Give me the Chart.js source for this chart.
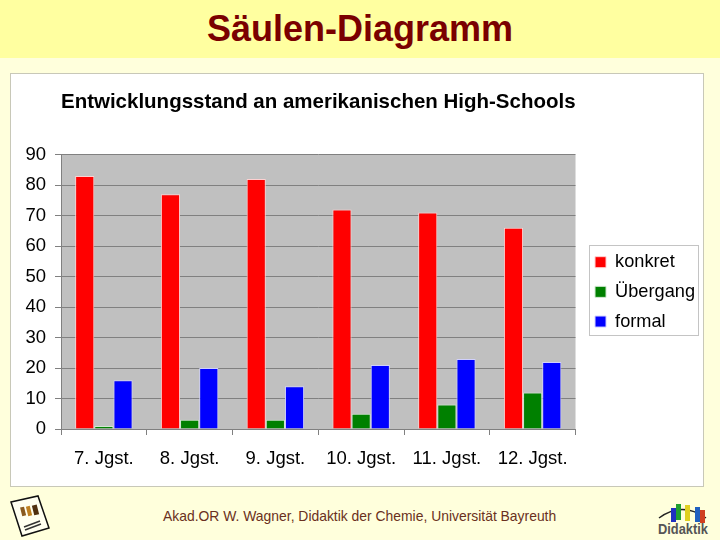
<!DOCTYPE html>
<html lang="de">
<head>
<meta charset="utf-8">
<title>Säulen-Diagramm</title>
<script src="https://cdn.jsdelivr.net/npm/chart.js@4"></script>
<style>
    html, body { margin: 0; padding: 0; }
    body { width: 720px; height: 540px; position: relative; overflow: hidden; background: #ffffdc; font-family: "Liberation Sans", Arial, sans-serif; }
    #band { position: absolute; left: 0; top: 0; width: 720px; height: 58px; background: #ffffa0; }
    #heading { position: absolute; left: 0; top: 7px; width: 720px; margin: 0; text-align: center; font-size: 36px; line-height: 44px; font-weight: bold; color: #7a0000; }
    #panel { position: absolute; left: 10px; top: 73px; width: 692px; height: 412px; background: #fff; border: 1px solid #c8c8b8; }
    #chartBox { position: absolute; left: 0; top: 0; width: 692px; height: 412px; }
    #footer { position: absolute; left: 163px; top: 508px; font-size: 13.9px; line-height: 16px; color: #6a3020; white-space: nowrap; }
    #docIcon { position: absolute; left: 8px; top: 495px; }
    #logo { position: absolute; left: 654px; top: 497px; }
</style>
</head>
<body>
<div id="band"></div>
<h1 id="heading">Säulen-Diagramm</h1>
<div id="panel"><div id="chartBox"><canvas id="mainChart" width="692" height="412"></canvas></div></div>
<div id="footer">Akad.OR W. Wagner, Didaktik der Chemie, Universität Bayreuth</div>

<svg id="docIcon" width="44" height="45" viewBox="0 0 44 45">
    <polygon points="3,7 30,1 41,33 14,41" fill="#fffff0" stroke="#111" stroke-width="1.5"/>
    <rect x="13" y="12" width="4" height="9" fill="#8a5a20" transform="rotate(-14 15 16)"/>
    <rect x="19" y="11" width="4" height="10" fill="#c08020" transform="rotate(-14 21 16)"/>
    <rect x="25" y="10" width="5" height="10" fill="#503010" transform="rotate(-14 27 15)"/>
    <path d="M16,32 L32,26 M17,35 L33,29" stroke="#333" stroke-width="1.5"/>
</svg>
<svg id="logo" width="58" height="42" viewBox="0 0 58 42">
    <path d="M5,21 Q28,4 52,21" fill="none" stroke="#222" stroke-width="1.5"/>
    <rect x="17" y="11" width="5" height="14" fill="#2030c0"/>
    <rect x="22" y="7" width="5" height="16" fill="#20a030"/>
    <rect x="31" y="8" width="5" height="16" fill="#e0d020"/>
    <rect x="41" y="10" width="5" height="15" fill="#2060c0"/>
    <rect x="46" y="13" width="5" height="13" fill="#d04020"/>
    <text x="29" y="37" text-anchor="middle" font-family="Liberation Sans" font-size="15" font-weight="bold" fill="#555" textLength="50" lengthAdjust="spacingAndGlyphs">Didaktik</text>
</svg>

<script>
const GRADES = ['7. Jgst.', '8. Jgst.', '9. Jgst.', '10. Jgst.', '11. Jgst.', '12. Jgst.'];
const KONKRET = [83, 77, 82, 72, 71, 66];
const UEBERGANG = [1, 3, 3, 5, 8, 12];
const FORMAL = [16, 20, 14, 21, 23, 22];
const Y_MAX = 90;
const Y_STEP = 10;

const FONT = 'Liberation Sans';
const LEGEND_GAP = 8;

// Grauer Hintergrund der Zeichenfläche
const plotBackground = {
    id: 'plotBackground',
    beforeDraw(chart) {
        const { ctx, chartArea: a } = chart;
        ctx.save();
        ctx.fillStyle = '#c0c0c0';
        ctx.fillRect(a.left, a.top, a.right - a.left, a.bottom - a.top);
        ctx.restore();
    }
};

// Legende von der Zeichenfläche absetzen und einrahmen
const legendFrame = {
    id: 'legendFrame',
    afterLayout(chart) {
        chart.legend.left += LEGEND_GAP;
        chart.legend.right += LEGEND_GAP;
    },
    afterDraw(chart) {
        const { ctx, legend: l } = chart;
        const boxes = l.legendHitBoxes;
        const last = boxes[boxes.length - 1];
        const left = Math.round(l.left) + 5;
        const top = Math.round(last.top - (boxes.length - 1) * (boxes[1].top - boxes[0].top)) - 8;
        const bottom = Math.round(last.top + last.height) + 4;
        ctx.save();
        ctx.strokeStyle = '#c4c4c4';
        ctx.lineWidth = 1;
        ctx.strokeRect(left + 0.5, top + 0.5, Math.round(l.right) - 6 - left - 1, bottom - top);
        ctx.restore();
    }
};

new Chart(document.getElementById('mainChart').getContext('2d'), {
    type: 'bar',
    data: {
        labels: GRADES,
        datasets: [
            { label: 'konkret', data: KONKRET, backgroundColor: '#ff0000', borderColor: '#ffd0d0' },
            { label: 'Übergang', data: UEBERGANG, backgroundColor: '#008000', borderColor: '#d0e8d0' },
            { label: 'formal', data: FORMAL, backgroundColor: '#0000ff', borderColor: '#d0d0ff' }
        ]
    },
    plugins: [plotBackground, legendFrame],
    options: {
        responsive: false,
        animation: false,
        devicePixelRatio: 1,
        layout: { padding: { left: 0, right: 6, top: 16, bottom: 8 } },
        datasets: {
            bar: { barPercentage: 1, categoryPercentage: 0.67, borderWidth: 1, borderSkipped: 'bottom' }
        },
        plugins: {
            tooltip: { enabled: false },
            title: {
                display: true,
                text: 'Entwicklungsstand an amerikanischen High-Schools',
                align: 'start',
                fullSize: false,
                color: '#000',
                font: { family: FONT, size: 20.6, weight: 'bold' },
                padding: { top: 0, bottom: 40 }
            },
            legend: {
                position: 'right',
                fullSize: false,
                labels: {
                    boxWidth: 11,
                    boxHeight: 11,
                    color: '#000',
                    padding: 11.5,
                    font: { family: FONT, size: 18.2 }
                }
            }
        },
        scales: {
            x: {
                grid: { drawOnChartArea: false, color: '#808080', tickLength: 6, offset: true },
                border: { color: '#808080' },
                ticks: { color: '#000', padding: 13, maxRotation: 0, font: { family: FONT, size: 18.5 } },
                afterFit(scale) { scale.height = 49; }
            },
            y: {
                min: 0,
                max: Y_MAX,
                grid: { color: '#808080', tickLength: 6, lineWidth: 1 },
                border: { color: '#808080' },
                ticks: { stepSize: Y_STEP, color: '#000', padding: 9, font: { family: FONT, size: 18.5 } },
                afterFit(scale) { scale.width = 50; }
            }
        }
    }
});
</script>
</body>
</html>
